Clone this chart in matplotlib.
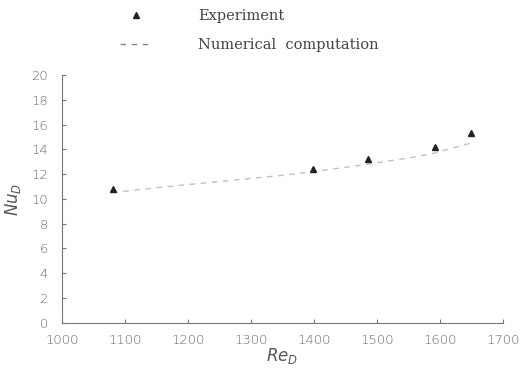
import matplotlib

matplotlib.use("Agg")
import matplotlib.pyplot as plt
from matplotlib.lines import Line2D

# experimental data
re_exp = [1081, 1398, 1486, 1592, 1649]
nu_exp = [10.8, 12.4, 13.2, 14.2, 15.3]

# numerical computation
re_num = [1080, 1150, 1250, 1350, 1400, 1486, 1550, 1592, 1649]
nu_num = [10.5, 10.9, 11.4, 11.9, 12.2, 12.8, 13.3, 13.7, 14.5]

x_ticks = [1000, 1100, 1200, 1300, 1400, 1500, 1600, 1700]
y_ticks = [0, 2, 4, 6, 8, 10, 12, 14, 16, 18, 20]

fig = plt.figure(figsize=(5.2, 3.69), dpi=100)
ax = fig.add_axes([0.119, 0.125, 0.848, 0.672])

ax.plot(re_num, nu_num, linestyle=(0, (4, 4)), color="#c0c0c0", linewidth=1.0)
ax.plot(re_exp, nu_exp, linestyle="none", marker="^", markersize=5,
        color="#222222")

ax.set_xlim(1000, 1700)
ax.set_ylim(0, 20)
ax.set_xticks(x_ticks)
ax.set_yticks(y_ticks)
for side in ("top", "right"):
    ax.spines[side].set_visible(False)
for side in ("left", "bottom"):
    ax.spines[side].set_color("#777777")
    ax.spines[side].set_linewidth(0.8)
ax.tick_params(direction="in", length=3, color="#777777", labelcolor="#666666",
               labelsize=9.5)
ax.tick_params(axis="y", pad=10)
ax.tick_params(axis="x", pad=8)
for lab in ax.get_xticklabels() + ax.get_yticklabels():
    lab.set_family("DejaVu Sans")
    lab.set_fontweight("light")

ax.set_xlabel(r"$Re_D$", fontsize=12, color="#555555", labelpad=0)
ax.set_ylabel(r"$Nu_D$", fontsize=12, color="#555555", labelpad=6)

handles = [
    Line2D([], [], linestyle="none", marker="^", markersize=5, color="#222222"),
    Line2D([], [], linestyle=(0, (4, 4)), color="#888888", linewidth=1.0),
]
fig.legend(handles, ["Experiment", "Numerical  computation"],
           loc="upper left", bbox_to_anchor=(0.205, 1.01), frameon=False,
           prop={"family": "DejaVu Serif", "size": 10.5}, labelspacing=1.0,
           handlelength=2.2, handletextpad=3.2, labelcolor="#444444")

fig.savefig("out.png", dpi=100)
